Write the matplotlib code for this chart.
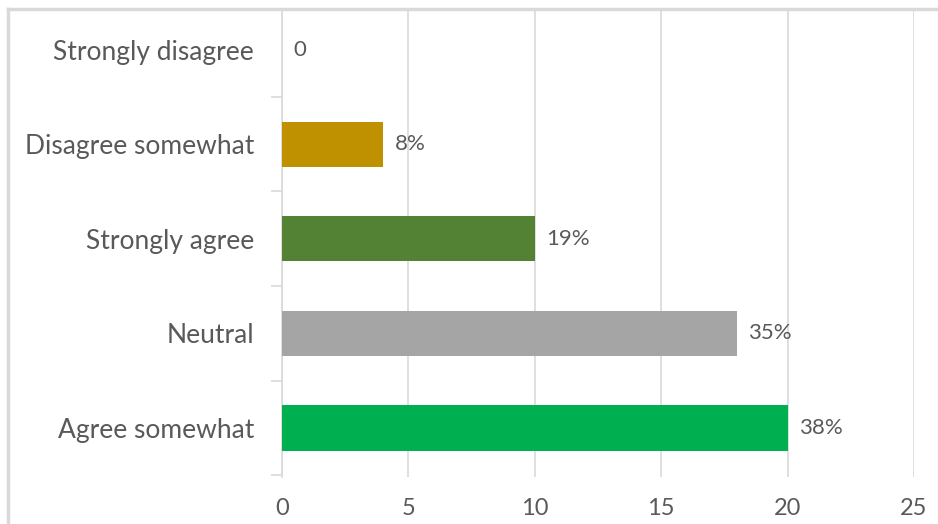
import matplotlib.pyplot as plt
from matplotlib.lines import Line2D

categories = ["Agree somewhat", "Neutral", "Strongly agree", "Disagree somewhat", "Strongly disagree"]
values = [20, 18, 10, 4, 0]
labels = ["38%", "35%", "19%", "8%", "0"]
colors = ["#00B050", "#A5A5A5", "#548235", "#BF9000", "#FFFFFF"]

plt.rcParams['font.family'] = ['Lato', 'DejaVu Sans']
text_col = "#595959"
grid_col = "#D9D9D9"

fig = plt.figure(figsize=(9.38, 5.24), dpi=100)
ax = fig.add_axes([282 / 938, 1 - 477 / 524, (914 - 282) / 938, (477 - 9) / 524])

pos = list(range(len(categories)))
ax.barh(pos, values, height=0.48, color=colors, zorder=3)

for p, v, t in zip(pos, values, labels):
    ax.text(v + 0.45, p, t, va="center", ha="left", fontsize=16, color=text_col)

ax.set_xlim(0, 25)
ax.set_ylim(-0.52, 4.43)
ax.set_xticks([0, 5, 10, 15, 20, 25])
ax.tick_params(axis="x", length=0, pad=15, labelsize=17, labelcolor=text_col)
ax.set_yticks(pos)
ax.set_yticklabels(categories)
ax.tick_params(axis="y", which="major", length=0, pad=20, labelsize=19, labelcolor=text_col)
ax.set_yticks([-0.5, 0.5, 1.5, 2.5, 3.5], minor=True)
ax.tick_params(axis="y", which="minor", length=8, width=1.2, color=grid_col, direction="out")

ax.grid(axis="x", color=grid_col, linewidth=1.2, zorder=0)
for s in ["top", "right", "bottom"]:
    ax.spines[s].set_visible(False)
ax.spines["left"].set_color(grid_col)
ax.spines["left"].set_linewidth(1.2)

# chart frame (top and left edges visible)
fig.add_artist(Line2D([8 / 938, 1], [1 - 9 / 524, 1 - 9 / 524], color="#D9D9D9", linewidth=2.5))
fig.add_artist(Line2D([8 / 938, 8 / 938], [0, 1 - 9 / 524], color="#D9D9D9", linewidth=2.5))

fig.savefig("out.png", dpi=100)
